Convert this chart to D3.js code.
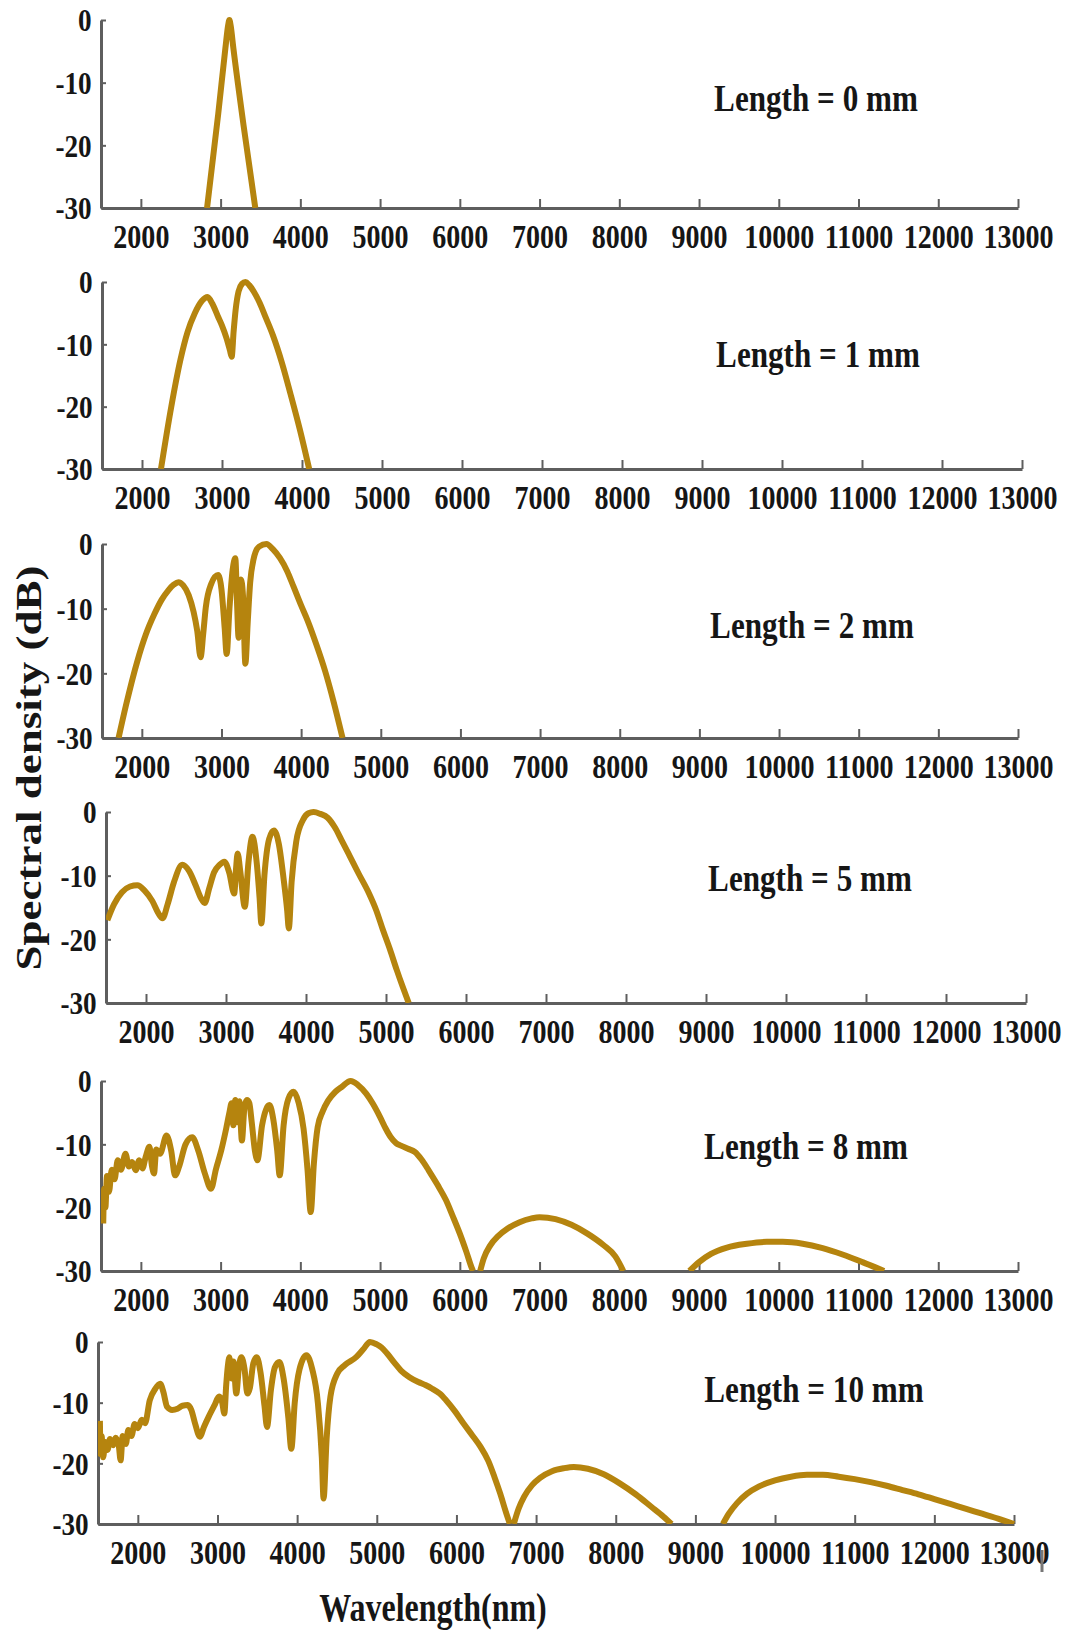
<!DOCTYPE html>
<html>
<head>
<meta charset="utf-8">
<script src="https://cdn.jsdelivr.net/npm/d3@7"></script>
<style>
  html, body { margin: 0; padding: 0; background: #ffffff; }
  svg { display: block; }
  text { font-family: "Liberation Serif", "Times New Roman", serif; font-weight: bold; fill: #161616; }
</style>
</head>
<body>
<svg id="chart" width="1068" height="1633"></svg>
<script>
// ---- data -------------------------------------------------------------
const wavelengthTicks = [2000, 3000, 4000, 5000, 6000, 7000, 8000, 9000, 10000, 11000, 12000, 13000];
const dbTicks = [0, -10, -20, -30];
const fiberLengthsMm = [0, 1, 2, 5, 8, 10];

// spectra as [wavelength (nm), spectral density (dB)]; null splits separate lobes
const spectrum0mm = [
  [2830, -30], [2970, -15], [3060, -4.5], [3095, -0.8], [3110, 0], [3125, -0.8], [3160, -4.5], [3290, -17], [3435, -30]
];
const spectrum1mm = [
  [2237, -30], [2366, -20], [2480, -12.5], [2570, -8], [2660, -5], [2750, -3], [2819, -2.4],
  [2880, -3.5], [2948, -5.5], [3000, -7], [3056, -9], [3100, -11], [3121, -12], [3145, -8],
  [3170, -4.5], [3207, -1.5], [3250, -0.3], [3293, 0], [3340, -0.5], [3400, -1.6], [3466, -3.2],
  [3550, -5.8], [3638, -8.6], [3750, -13], [3853, -17.8], [3970, -23.5], [4090, -30]
];
const spectrum2mm = [
  [1708, -30], [1800, -25], [1944, -18.1], [2050, -14], [2159, -10.8], [2250, -8.6], [2330, -7.2],
  [2400, -6.3], [2459, -5.9], [2520, -6.4], [2588, -7.9], [2650, -10.5], [2695, -13.4], [2738, -17.5],
  [2770, -14], [2803, -9.8], [2870, -6.2], [2957, -4.8], [3000, -7], [3040, -13], [3065, -17],
  [3100, -10], [3140, -4], [3174, -2.2], [3195, -9], [3215, -14.5], [3245, -5.5], [3270, -8],
  [3300, -18.5], [3330, -12], [3360, -6], [3400, -2.5], [3472, -0.4], [3565, 0], [3645, -0.8],
  [3735, -2.2], [3825, -4.2], [3905, -6.6], [4000, -9.5], [4080, -11.8], [4190, -15.5],
  [4300, -19.6], [4410, -24.5], [4520, -30]
];
const spectrum5mm = [
  [1517, -17], [1600, -14.5], [1700, -12.6], [1800, -11.7], [1892, -11.5], [1980, -12.3], [2080, -14],
  [2150, -15.8], [2207, -16.7], [2270, -14.5], [2350, -11], [2453, -8.3], [2540, -9.3], [2620, -11.5],
  [2690, -13.6], [2733, -14.3], [2790, -12], [2850, -9.5], [2920, -8.3], [2979, -7.8], [3040, -9.5],
  [3103, -12.8], [3125, -9], [3145, -6.5], [3180, -9.5], [3235, -14.9], [3280, -8], [3331, -3.9],
  [3380, -7.5], [3420, -13.5], [3442, -17.5], [3480, -10], [3540, -4.2], [3599, -2.9], [3660, -5],
  [3720, -10.5], [3765, -15.5], [3785, -18.3], [3820, -11], [3880, -4.5], [3960, -1.3], [4030, -0.2],
  [4095, 0], [4180, -0.3], [4271, -0.9], [4360, -2.4], [4444, -4.4], [4550, -7], [4659, -9.7],
  [4788, -12.8], [4880, -15.5], [4961, -18.5], [5050, -21.6], [5134, -24.8], [5210, -27.5], [5284, -30]
];
const spectrum8mm = [
  [1528, -22.5], [1540, -17], [1555, -20], [1575, -15], [1600, -17.5], [1635, -14], [1670, -15.5],
  [1710, -12.5], [1750, -14], [1807, -11.5], [1850, -13.5], [1890, -12.8], [1936, -14.1], [1980, -12.5],
  [2020, -13.8], [2060, -12], [2107, -10.4], [2140, -13.5], [2165, -14.6], [2193, -10.8], [2240, -11.5],
  [2322, -8.6], [2380, -11], [2429, -14.9], [2480, -13.5], [2560, -10], [2644, -8.9], [2720, -11],
  [2800, -14.5], [2880, -17], [2940, -14], [3009, -10.9], [3070, -7.5], [3110, -5], [3138, -3.5],
  [3160, -7], [3185, -3], [3210, -6.5], [3235, -3.2], [3267, -9.4], [3300, -4], [3330, -3],
  [3360, -3.5], [3390, -6.5], [3430, -11], [3461, -12.5], [3520, -7], [3570, -4.5], [3612, -3.8],
  [3660, -6], [3710, -11], [3741, -14.9], [3790, -7], [3850, -2.8], [3914, -1.7], [3980, -3.5],
  [4040, -7.5], [4090, -14], [4130, -20.7], [4170, -13], [4217, -7.3], [4280, -4.8], [4348, -3.1],
  [4440, -1.7], [4522, -0.9], [4630, 0], [4720, -0.6], [4826, -2], [4910, -3.6], [5000, -5.7],
  [5070, -7.5], [5130, -8.8], [5200, -9.8], [5261, -10.2], [5350, -10.7], [5435, -11.2], [5520, -12.4],
  [5609, -14.1], [5720, -16.4], [5826, -18.8], [5910, -21.3], [6000, -24.1], [6080, -26.9],
  [6152, -29.6], [6165, -30],
  null,
  [6255, -30], [6300, -28], [6380, -26], [6480, -24.5], [6600, -23.3], [6750, -22.3], [6900, -21.7],
  [7000, -21.5], [7200, -21.8], [7400, -22.7], [7600, -24.1], [7800, -25.9], [7950, -27.7], [8050, -30],
  null,
  [8880, -30], [9000, -28.6], [9150, -27.3], [9350, -26.3], [9600, -25.7], [9850, -25.4], [10050, -25.4],
  [10300, -25.7], [10550, -26.4], [10800, -27.4], [11050, -28.6], [11320, -30]
];
const spectrum10mm = [
  [1524, -13], [1532, -18.5], [1545, -15.5], [1565, -19], [1590, -16.5], [1620, -17.8], [1650, -16],
  [1690, -17], [1720, -15.8], [1760, -17], [1784, -19.5], [1810, -15.5], [1850, -16.8], [1880, -14.5],
  [1920, -15.5], [1960, -13.5], [2000, -14.2], [2050, -12.8], [2090, -13.4], [2150, -9.6], [2220, -7.7],
  [2281, -6.9], [2320, -8.2], [2368, -10.7], [2430, -11.2], [2498, -11], [2560, -10.5], [2628, -10.4],
  [2671, -11.2], [2720, -13.5], [2779, -15.6], [2830, -14], [2890, -12.3], [2960, -10.5], [3021, -9],
  [3060, -10], [3086, -11.8], [3110, -7], [3129, -4.1], [3150, -2.5], [3175, -6], [3200, -3.2],
  [3236, -8.5], [3270, -4], [3300, -2.5], [3340, -4.5], [3375, -8.5], [3408, -7.5], [3450, -3.5],
  [3494, -2.5], [3540, -5], [3590, -10.5], [3622, -14], [3670, -8], [3720, -4.2], [3777, -3.3],
  [3830, -6], [3890, -12.5], [3927, -17.6], [3970, -10], [4030, -4.5], [4116, -2.2], [4190, -4.5],
  [4260, -10], [4310, -19], [4332, -25.8], [4370, -16], [4418, -9], [4504, -5.2], [4600, -3.8],
  [4741, -2.5], [4830, -1.2], [4914, 0], [5000, -0.4], [5060, -0.9], [5130, -1.9], [5220, -3.4],
  [5304, -4.7], [5410, -5.8], [5522, -6.6], [5610, -7.1], [5696, -7.7], [5790, -8.5], [5870, -9.6],
  [5980, -11.4], [6087, -13.4], [6200, -15.4], [6303, -17.3], [6400, -19.6], [6476, -22.2],
  [6550, -25], [6620, -28], [6671, -30],
  null,
  [6720, -30], [6780, -27.5], [6850, -25.5], [6950, -23.6], [7050, -22.4], [7200, -21.3], [7350, -20.8],
  [7474, -20.6], [7650, -20.9], [7850, -21.8], [8050, -23.3], [8250, -25.1], [8450, -27.2], [8600, -28.8],
  [8700, -30],
  null,
  [9345, -30], [9420, -28.3], [9520, -26.6], [9650, -25], [9800, -23.8], [10000, -22.8], [10200, -22.2],
  [10400, -21.9], [10600, -21.9], [10800, -22.2], [11000, -22.6], [11200, -23.1], [11400, -23.7],
  [11600, -24.4], [11800, -25.1], [12000, -25.9], [12200, -26.7], [12400, -27.5], [12600, -28.3],
  [12800, -29.1], [13000, -30]
];
const spectra = [spectrum0mm, spectrum1mm, spectrum2mm, spectrum5mm, spectrum8mm, spectrum10mm];

// ---- layout -----------------------------------------------------------
const panelBoxes = [
  { left: 101, right: 1018, top: 20,   bottom: 208,  labelX: 816, labelY: 111 },
  { left: 102, right: 1022, top: 282,  bottom: 469,  labelX: 818, labelY: 367 },
  { left: 102, right: 1018, top: 544,  bottom: 738,  labelX: 812, labelY: 638 },
  { left: 106, right: 1026, top: 812,  bottom: 1003, labelX: 810, labelY: 891 },
  { left: 101, right: 1018, top: 1081, bottom: 1271, labelX: 806, labelY: 1159 },
  { left: 98,  right: 1014, top: 1342, bottom: 1524, labelX: 814, labelY: 1402 }
];
const curveColor = "#b5840e";
const axisColor = "#5e5e5e";

const svg = d3.select("#chart");

panelBoxes.forEach((box, i) => {
  const x = d3.scaleLinear().domain([1500, 13000]).range([box.left, box.right]);
  const y = d3.scaleLinear().domain([-30, 0]).range([box.bottom, box.top]);
  const panel = svg.append("g").attr("class", "panel");

  // x axis with inward ticks
  const xAxis = panel.append("g")
    .attr("transform", `translate(0,${box.bottom})`)
    .call(d3.axisBottom(x).tickValues(wavelengthTicks).tickSize(-9).tickSizeOuter(0).tickFormat(d => String(d)));
  xAxis.select(".domain").attr("stroke", axisColor).attr("stroke-width", 3);
  xAxis.selectAll(".tick line").attr("stroke", axisColor).attr("stroke-width", 2);
  xAxis.selectAll(".tick text")
    .attr("y", 40).attr("dy", null)
    .attr("font-size", 33)
    .attr("fill", "#161616")
    .attr("transform", "scale(0.85,1)");

  // y axis with inward ticks; labels use a plain hyphen for negatives
  const yAxis = panel.append("g")
    .attr("transform", `translate(${box.left},0)`)
    .call(d3.axisLeft(y).tickValues(dbTicks).tickSize(-5).tickSizeOuter(0).tickFormat(d => String(d)));
  yAxis.select(".domain").attr("stroke", axisColor).attr("stroke-width", 3);
  yAxis.selectAll(".tick line").attr("stroke", axisColor).attr("stroke-width", 2);
  yAxis.selectAll(".tick text")
    .attr("x", -11).attr("dy", "0.34em")
    .attr("font-size", 32)
    .attr("fill", "#161616")
    .attr("transform", "scale(0.85,1)");

  // spectrum curve, clipped to the plotting area
  const clipId = `clip-${i}`;
  svg.append("clipPath").attr("id", clipId)
    .append("rect")
    .attr("x", box.left).attr("y", box.top - 20)
    .attr("width", box.right - box.left + 10).attr("height", box.bottom - box.top + 20);

  const line = d3.line()
    .defined(d => d !== null)
    .x(d => x(d[0]))
    .y(d => y(d[1]))
    .curve(d3.curveMonotoneX);

  panel.append("path")
    .datum(spectra[i])
    .attr("clip-path", `url(#${clipId})`)
    .attr("fill", "none")
    .attr("stroke", curveColor)
    .attr("stroke-width", 6)
    .attr("stroke-linejoin", "round")
    .attr("d", line);

  // fiber length annotation
  panel.append("text")
    .attr("transform", `translate(${box.labelX},${box.labelY}) scale(0.82,1)`)
    .attr("text-anchor", "middle")
    .attr("font-size", 38)
    .text(`Length = ${fiberLengthsMm[i]} mm`);
});

// small stray bar after the last tick label of the bottom panel
svg.append("line")
  .attr("x1", 1042).attr("x2", 1042).attr("y1", 1550).attr("y2", 1572)
  .attr("stroke", "#777").attr("stroke-width", 3);

// shared axis titles
svg.append("text")
  .attr("transform", "translate(28,768) rotate(-90) scale(1,0.8)")
  .attr("text-anchor", "middle")
  .attr("dy", "0.35em")
  .attr("font-size", 45)
  .text("Spectral density (dB)");

svg.append("text")
  .attr("transform", "translate(433,1621) scale(0.8,1)")
  .attr("text-anchor", "middle")
  .attr("font-size", 40)
  .text("Wavelength(nm)");
</script>
</body>
</html>
